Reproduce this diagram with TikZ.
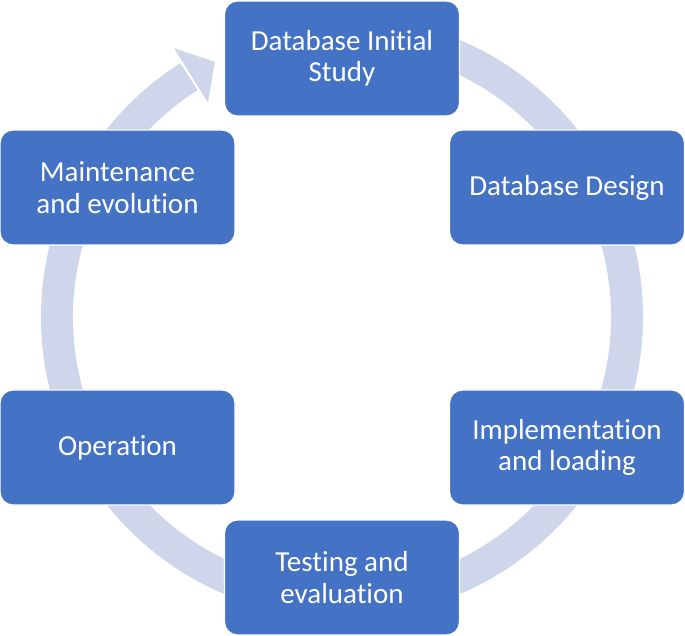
\documentclass[tikz,border=0pt]{standalone}
\usepackage{fontspec}
\setmainfont[Ligatures={NoCommon,NoRare}]{Carlito}
\usetikzlibrary{calc}
\definecolor{stageblue}{HTML}{4472C4}
\definecolor{ringgray}{HTML}{CFD5EA}
\tikzset{stage/.style={draw=white, line width=1.2pt, fill=stageblue, rounded corners=13pt,
  minimum width=235pt, minimum height=115pt, inner sep=0pt, align=center, text=white,
  font=\fontsize{29}{31.5}\selectfont}}
\begin{document}
\begin{tikzpicture}[x=1pt, y=1pt]
\useasboundingbox (0,0) rectangle (685,635);
% Set the ring dimensions
\def\ringrad{285}
\def\ringwidth{32pt}
\coordinate (hub) at (342,318);

% Draw the ring and its arrow head
\draw[ringgray, line width=\ringwidth] (hub) ++(80:\ringrad) arc[start angle=80, end angle=-237.5, radius=\ringrad];
\fill[ringgray] ($(hub)+(122:317)$) -- ($(hub)+(116.5:\ringrad)$) -- ($(hub)+(122:253)$) -- cycle;

% Draw the stages round the ring
\node[stage] (initial) at (342, 576.5) {Database Initial\\Study};
\node[stage] (design) at (567, 447.5) {Database Design};
\node[stage] (implement) at (567, 187.5) {Implementation\\and loading};
\node[stage] (testing) at (342, 57.5) {Testing and\\evaluation};
\node[stage] (operation) at (117.5, 187.5) {Operation};
\node[stage] (maintain) at (117.5, 447.5) {Maintenance\\and evolution};
\end{tikzpicture}
\end{document}
